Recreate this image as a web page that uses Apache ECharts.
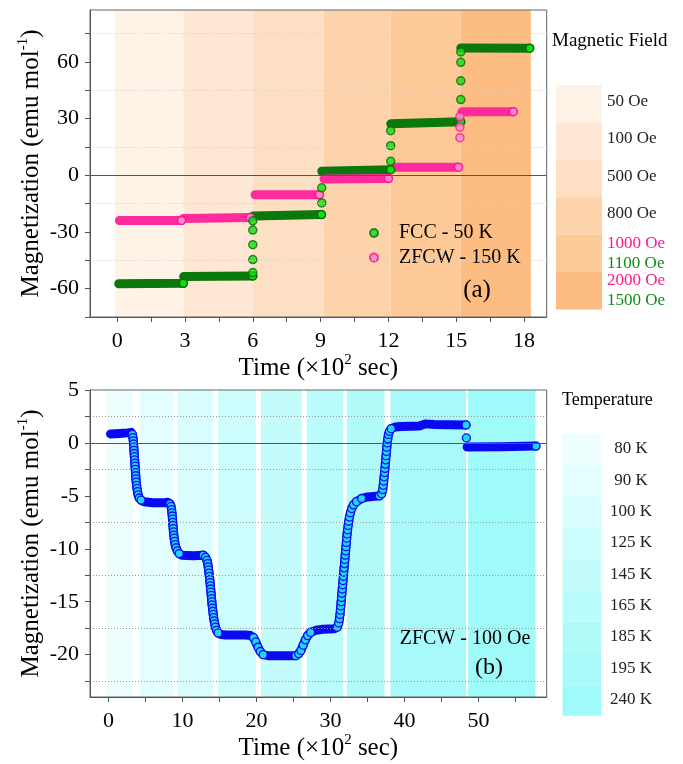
<!DOCTYPE html>
<html>
<head>
<meta charset="utf-8">
<script src="https://cdn.jsdelivr.net/npm/echarts@6/dist/echarts.min.js"></script>
<style>
html, body { margin: 0; padding: 0; background: #fff; }
#chart { width: 683px; height: 764px; }
</style>
</head>
<body>
<div id="chart"></div>
<script>
// ---------- panel (a): magnetization vs time at fixed field steps ----------
const fieldBandStart = [-0.1, 2.93, 6.0, 9.14, 12.1, 15.2];
const fieldBandEnd = [2.93, 6.0, 9.14, 12.1, 15.2, 18.3];
const fieldColors = ['#fff3e8', '#fee8d5', '#fddfc4', '#fdd3ab', '#fdc996', '#fdbd82'];
const fieldLabelsTop = ['50 Oe', '100 Oe', '500 Oe', '800 Oe', '1000 Oe', '2000 Oe'];
const fieldLabelsBottom = ['', '', '', '', '1100 Oe', '1500 Oe'];

// FCC - 50 K : plateaus + points taken while the field was stepping
const fccStepStart = [0.07, 2.94, 6.02, 9.05, 12.1, 15.2];
const fccStepEnd = [2.93, 6.0, 9.04, 12.1, 15.2, 18.25];
const fccLevelStart = [-57.4, -53.6, -21.6, 2.2, 27.3, 67.4];
const fccLevelEnd = [-57.2, -53.3, -20.8, 3.0, 28.3, 67.3];
const fccJumpTime = [6.0, 6.0, 6.0, 6.0, 6.0, 9.05, 9.05, 12.1, 12.1, 12.1, 15.2, 15.2, 15.2, 15.2];
const fccJumpM = [-51.5, -44.6, -36.7, -29.0, -24.1, -14.6, -6.6, 7.4, 15.7, 23.6, 40.1, 50.0, 59.8, 65.3];

// ZFCW - 150 K
const zfcStepStart = [0.1, 2.93, 6.1, 9.15, 12.24, 15.25];
const zfcStepEnd = [2.85, 5.88, 8.95, 12.0, 15.1, 17.52];
const zfcLevelStart = [-23.9, -22.8, -10.3, -1.9, 4.2, 33.6];
const zfcLevelEnd = [-23.9, -22.3, -10.3, -1.7, 4.3, 33.7];
const zfcJumpTime = [15.16, 15.16, 15.16];
const zfcJumpM = [19.9, 25.5, 31.1];

const aTimeTicks = [0, 1.5, 3, 4.5, 6, 7.5, 9, 10.5, 12, 13.5, 15, 16.5, 18];
const aTimeLabels = [0, 3, 6, 9, 12, 15, 18];
const aMagTicks = [-75, -60, -45, -30, -15, 0, 15, 30, 45, 60, 75];
const aMagLabels = [-60, -30, 0, 30, 60];
const aMagGrid = [-45, -15, 15, 45, 75];

// ---------- panel (b): ZFCW - 100 Oe, temperature steps ----------
const tempBandStart = [-0.27, 4.2, 9.3, 14.8, 20.6, 26.8, 32.2, 38.1, 48.6];
const tempBandEnd = [3.3, 8.8, 14.1, 19.9, 26.1, 31.7, 37.3, 48.3, 57.7];
const tempColors = ['#eefefe', '#e3fefe', '#d7fdfd', '#cdfcfc', '#c4fbfb', '#bafbfb', '#b0fafa', '#a8fafa', '#9ffafa'];
const tempLabels = ['80 K', '90 K', '100 K', '125 K', '145 K', '165 K', '185 K', '195 K', '240 K'];

const tempTime = [
  0.27, 1.5, 2.6, 3.05,
  3.22, 3.3, 3.35, 3.38, 3.41, 3.44, 3.47, 3.5, 3.53, 3.56, 3.59, 3.62, 3.65, 3.68, 3.71, 3.75, 3.79, 3.85, 3.92, 4.0, 4.15, 4.4, 4.8,
  6.0, 7.6, 8.0,
  8.3, 8.45, 8.52, 8.57, 8.61, 8.65, 8.68, 8.71, 8.74, 8.78, 8.82, 8.87, 8.93, 9.0, 9.12, 9.3, 9.55, 9.9,
  11.5, 12.8,
  13.1, 13.3, 13.4, 13.47, 13.53, 13.58, 13.63, 13.68, 13.72, 13.76, 13.8, 13.84, 13.88, 13.92, 13.96, 14.0, 14.05, 14.1, 14.15, 14.2, 14.27, 14.35, 14.45, 14.6, 14.8, 15.2, 15.9,
  18.5, 19.2,
  19.6, 19.9, 20.2, 20.5, 20.9, 21.6,
  25.3,
  25.7, 26.0, 26.3, 26.6, 26.9, 27.3, 28.0, 29.0, 30.5,
  30.9, 31.1, 31.2, 31.27, 31.33, 31.38, 31.43, 31.48, 31.53, 31.58, 31.63, 31.68, 31.73, 31.78, 31.83, 31.88, 31.93, 31.98, 32.03, 32.08, 32.13, 32.18, 32.23, 32.3, 32.37, 32.45, 32.55, 32.68, 32.85, 33.1, 33.5, 34.2, 35.0,
  36.6,
  36.9, 37.05, 37.12, 37.18, 37.24, 37.3, 37.35, 37.4, 37.45, 37.5, 37.55, 37.6, 37.66, 37.73, 37.82, 37.95, 38.2, 38.7, 39.5,
  42.0, 42.8, 44.0, 48.3,
  null, 48.35, null,
  48.45, 53.0, 57.75
];
const tempMag = [
  0.85, 0.9, 0.95, 1.0,
  0.8, 0.5, 0.2, -0.1, -0.4, -0.7, -1.0, -1.3, -1.6, -1.9, -2.2, -2.5, -2.8, -3.1, -3.4, -3.7, -4.0, -4.3, -4.6, -4.9, -5.2, -5.4, -5.55,
  -5.65, -5.65, -5.6,
  -5.75, -6.0, -6.3, -6.6, -6.9, -7.2, -7.5, -7.8, -8.1, -8.4, -8.7, -9.0, -9.3, -9.6, -9.9, -10.2, -10.45, -10.6,
  -10.65, -10.6,
  -10.8, -11.1, -11.4, -11.7, -12.0, -12.3, -12.6, -12.9, -13.2, -13.5, -13.8, -14.1, -14.4, -14.7, -15.0, -15.3, -15.6, -15.9, -16.2, -16.5, -16.8, -17.1, -17.4, -17.7, -17.95, -18.1, -18.15,
  -18.15, -18.2,
  -18.4, -18.8, -19.3, -19.7, -20.0, -20.1,
  -20.1,
  -19.9, -19.6, -19.1, -18.6, -18.2, -17.9, -17.7, -17.6, -17.55,
  -17.4, -17.0, -16.6, -16.2, -15.8, -15.4, -15.0, -14.6, -14.2, -13.8, -13.4, -13.0, -12.6, -12.2, -11.8, -11.4, -11.0, -10.6, -10.2, -9.8, -9.4, -9.0, -8.6, -8.2, -7.8, -7.4, -7.0, -6.6, -6.2, -5.85, -5.55, -5.25, -5.1,
  -5.0,
  -4.8, -4.4, -4.0, -3.6, -3.2, -2.8, -2.4, -2.0, -1.6, -1.2, -0.8, -0.4, 0.0, 0.4, 0.8, 1.1, 1.35, 1.5, 1.55,
  1.6, 1.8, 1.75, 1.7,
  null, 0.47, null,
  -0.38, -0.35, -0.3
];

const bTimeTicks = [0, 5, 10, 15, 20, 25, 30, 35, 40, 45, 50, 55];
const bTimeLabels = [0, 10, 20, 30, 40, 50];
const bMagTicks = [-22.5, -20, -17.5, -15, -12.5, -10, -7.5, -5, -2.5, 0, 2.5, 5];
const bMagLabels = [-20, -15, -10, -5, 0, 5];
const bMagGrid = [-22.5, -17.5, -12.5, -7.5, -2.5, 2.5];

const FONT = 'Liberation Serif';

function plateaus(starts, ends, m0, m1) {
  const d = [];
  starts.forEach((s, i) => {
    d.push({ value: [s, m0[i]], symbol: 'none' });
    d.push({ value: [ends[i], m1[i]] });
    d.push({ value: [null, null] });
  });
  return d;
}

// markers only show where the trace moves fast (elsewhere they merge into the band)
function trace(ts, ms) {
  return ts.map((t, i) => {
    if (t === null) return { value: [null, null] };
    const prev = i > 0 ? ms[i - 1] : null;
    const next = i < ms.length - 1 ? ms[i + 1] : null;
    const steep = (prev !== null && Math.abs(ms[i] - prev) > 0.2) || (next !== null && Math.abs(next - ms[i]) > 0.2);
    return { value: [t, ms[i]], symbol: (steep || next === null) ? 'circle' : 'none' };
  });
}

function bands(starts, ends, colors) {
  return starts.map((s, i) => [{ xAxis: s, itemStyle: { color: colors[i] } }, { xAxis: ends[i] }]);
}

function valueAxis(idx, min, max, ticks, labels, margin, extra) {
  return Object.assign({
    type: 'value', gridIndex: idx, min: min, max: max, z: 5,
    splitLine: { show: false },
    axisLine: { onZero: false, lineStyle: { color: '#555', width: 1 } },
    axisTick: { customValues: ticks, length: 5, lineStyle: { color: '#555' } },
    axisLabel: { customValues: labels, color: '#000', fontSize: 22, fontFamily: FONT, margin: margin },
    nameLocation: 'middle',
    nameMoveOverlap: false,
    nameTextStyle: {
      color: '#000', fontSize: 25, fontFamily: FONT, lineHeight: 30,
      rich: { sup: { fontSize: 15, fontFamily: FONT, color: '#000', verticalAlign: 'top', lineHeight: 30 } }
    }
  }, extra);
}

function gridLineSeries(axisIdx, values, color) {
  const style = { type: [1, 2], color: color, width: 1, opacity: 1 };
  return {
    type: 'line', xAxisIndex: axisIdx, yAxisIndex: axisIdx, data: [], z: 2, silent: true,
    color: color,
    markLine: {
      silent: true, symbol: ['none', 'none'], label: { show: false },
      lineStyle: style,
      data: values.map(v => ({ yAxis: v, lineStyle: style }))
    }
  };
}

function zeroLineSeries(axisIdx) {
  return {
    type: 'line', xAxisIndex: axisIdx, yAxisIndex: axisIdx, data: [], z: 2, silent: true,
    color: '#555',
    markLine: {
      silent: true, symbol: ['none', 'none'], label: { show: false },
      lineStyle: { type: 'solid', color: '#555', width: 1 },
      data: [{ yAxis: 0 }]
    }
  };
}

const greenStyle = { color: '#11dd11', borderColor: '#0a6e0a', borderWidth: 1.5 };
const pinkStyle = { color: '#ff88cc', borderColor: '#ff1493', borderWidth: 1.5 };
const blueStyle = { color: '#22d4ff', borderColor: '#0a0aee', borderWidth: 1.3 };

const graphics = [];
graphics.push({ type: 'text', left: 552, top: 32, style: { text: 'Magnetic Field', font: '19px "Liberation Serif"', fill: '#000' } });
fieldLabelsTop.forEach((t, i) => {
  const y0 = 85 + i * 37.4;
  graphics.push({ type: 'rect', shape: { x: 556, y: y0, width: 46, height: 37.4 }, style: { fill: fieldColors[i] } });
  if (fieldLabelsBottom[i]) {
    graphics.push({ type: 'text', x: 607, y: y0 + 8.7, style: { text: t, font: '17px "Liberation Serif"', fill: '#ff1a8c', textVerticalAlign: 'middle' } });
    graphics.push({ type: 'text', x: 607, y: y0 + 28.7, style: { text: fieldLabelsBottom[i], font: '17px "Liberation Serif"', fill: '#138a13', textVerticalAlign: 'middle' } });
  } else {
    graphics.push({ type: 'text', x: 607, y: y0 + 16.5, style: { text: t, font: '17px "Liberation Serif"', fill: '#222', textVerticalAlign: 'middle' } });
  }
});
graphics.push({ type: 'text', left: 562, top: 391, style: { text: 'Temperature', font: '18px "Liberation Serif"', fill: '#000' } });
tempLabels.forEach((t, i) => {
  const y0 = 434 + i * 31.3;
  graphics.push({ type: 'rect', shape: { x: 562.5, y: y0, width: 38.5, height: 31.3 }, style: { fill: tempColors[i] } });
  graphics.push({ type: 'text', x: 631, y: y0 + 15, style: { text: t, font: '17px "Liberation Serif"', fill: '#222', textAlign: 'center', textVerticalAlign: 'middle' } });
});
graphics.push({ type: 'text', x: 477, y: 290, z: 20, style: { text: '(a)', font: '25px "Liberation Serif"', fill: '#000', textAlign: 'center', textVerticalAlign: 'middle' } });
graphics.push({ type: 'text', x: 465, y: 639, z: 20, style: { text: 'ZFCW - 100 Oe', font: '20px "Liberation Serif"', fill: '#000', textAlign: 'center', textVerticalAlign: 'middle' } });
graphics.push({ type: 'text', x: 489, y: 668, z: 20, style: { text: '(b)', font: '24px "Liberation Serif"', fill: '#000', textAlign: 'center', textVerticalAlign: 'middle' } });

const chart = echarts.init(document.getElementById('chart'), null, { renderer: 'canvas' });
chart.setOption({
  animation: false,
  backgroundColor: '#fff',
  grid: [
    { left: 90, top: 10, width: 456.7, height: 307, show: true, borderColor: '#666', borderWidth: 1, z: 5 },
    { left: 90, top: 390, width: 456.7, height: 307.3, show: true, borderColor: '#666', borderWidth: 1, z: 5 }
  ],
  xAxis: [
    valueAxis(0, -1.2, 19, aTimeTicks, aTimeLabels, 13, { name: 'Time (×10{sup|2} sec)', nameGap: 36 }),
    valueAxis(1, -2.5, 59.2, bTimeTicks, bTimeLabels, 13, { name: 'Time (×10{sup|2} sec)', nameGap: 36 })
  ],
  yAxis: [
    valueAxis(0, -75, 87.5, aMagTicks, aMagLabels, 11, { name: 'Magnetization (emu mol{sup|-1})', nameGap: 44 }),
    valueAxis(1, -24, 5, bMagTicks, bMagLabels, 11, { name: 'Magnetization (emu mol{sup|-1})', nameGap: 44 })
  ],
  legend: {
    left: 364, top: 218, orient: 'vertical', itemGap: 4.6,
    itemWidth: 40, itemHeight: 8,
    textStyle: { fontSize: 20, fontFamily: FONT, color: '#000', lineHeight: 20 },
    data: [{ name: 'FCC - 50 K', icon: 'circle' }, { name: 'ZFCW - 150 K', icon: 'circle' }]
  },
  graphic: graphics,
  series: [
    {
      type: 'line', xAxisIndex: 0, yAxisIndex: 0, data: [], z: 1, silent: true,
      markArea: { silent: true, data: bands(fieldBandStart, fieldBandEnd, fieldColors) }
    },
    gridLineSeries(0, aMagGrid, '#d0d0d0'),
    zeroLineSeries(0),
    {
      name: 'FCC - 50 K', type: 'scatter', xAxisIndex: 0, yAxisIndex: 0, z: 4,
      data: fccJumpTime.map((t, i) => [t, fccJumpM[i]]),
      symbol: 'circle', symbolSize: 8, itemStyle: greenStyle
    },
    {
      name: 'FCC - 50 K', type: 'line', xAxisIndex: 0, yAxisIndex: 0, z: 3,
      data: plateaus(fccStepStart, fccStepEnd, fccLevelStart, fccLevelEnd),
      symbol: 'circle', symbolSize: 8, itemStyle: greenStyle,
      lineStyle: { color: '#0a780a', width: 9, cap: 'round', join: 'round' }
    },
    {
      name: 'ZFCW - 150 K', type: 'scatter', xAxisIndex: 0, yAxisIndex: 0, z: 4,
      data: zfcJumpTime.map((t, i) => [t, zfcJumpM[i]]),
      symbol: 'circle', symbolSize: 8, itemStyle: pinkStyle
    },
    {
      name: 'ZFCW - 150 K', type: 'line', xAxisIndex: 0, yAxisIndex: 0, z: 3,
      data: plateaus(zfcStepStart, zfcStepEnd, zfcLevelStart, zfcLevelEnd),
      symbol: 'circle', symbolSize: 8, itemStyle: pinkStyle,
      lineStyle: { color: '#ff2a9c', width: 9, cap: 'round', join: 'round' }
    },
    {
      type: 'line', xAxisIndex: 1, yAxisIndex: 1, data: [], z: 1, silent: true,
      markArea: { silent: true, data: bands(tempBandStart, tempBandEnd, tempColors) }
    },
    gridLineSeries(1, bMagGrid, '#9a9a9a'),
    zeroLineSeries(1),
    {
      name: 'ZFCW - 100 Oe', type: 'line', xAxisIndex: 1, yAxisIndex: 1, z: 3,
      data: trace(tempTime, tempMag),
      symbolSize: 8, showAllSymbol: true, itemStyle: blueStyle,
      lineStyle: { color: '#0a0aee', width: 9, cap: 'round', join: 'round' }
    }
  ]
});
</script>
</body>
</html>
